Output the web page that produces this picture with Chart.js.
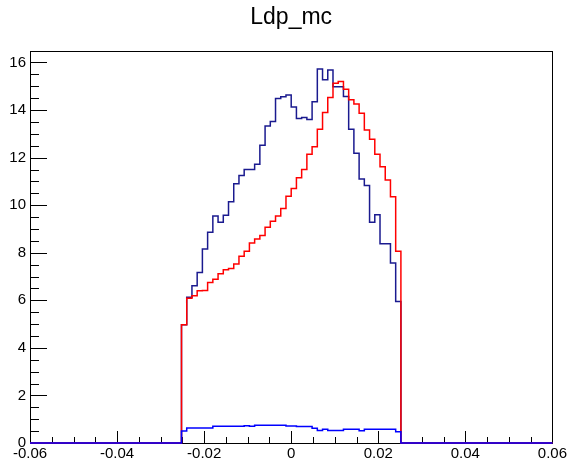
<!DOCTYPE html>
<html>
<head>
<meta charset="utf-8">
<title>Ldp_mc</title>
<script src="https://cdn.jsdelivr.net/npm/chart.js@4/dist/chart.umd.min.js"></script>
<style>
  body { margin: 0; background: #fff; }
  canvas { display: block; }
</style>
</head>
<body>
<canvas id="ldp" width="569" height="464"></canvas>
<script>
// histogram binning: 100 bins over [-0.06, 0.06], filled bins start at 29
var nBins = 100
var xMin = -0.06
var xMax = 0.06
var yMax = 16.5
var firstBin = 29

// bin contents, bins 29..70
var ldpNavy = [4.97, 6.13, 6.61, 7.17, 8.16, 8.86, 9.54, 9.28, 9.58, 10.14,
  10.90, 11.25, 11.50, 11.50, 11.72, 12.52, 13.33, 13.52, 14.49, 14.56,
  14.63, 14.13, 13.64, 13.69, 13.60, 14.35, 15.73, 15.27, 15.68, 14.98,
  14.98, 14.57, 13.19, 12.18, 11.10, 10.83, 9.28, 9.60, 8.38, 8.38,
  7.57, 5.95]
var ldpRed = [4.97, 6.09, 6.19, 6.40, 6.41, 6.75, 6.89, 7.12, 7.29, 7.34,
  7.53, 7.85, 8.06, 8.41, 8.58, 8.72, 9.07, 9.32, 9.54, 9.86,
  10.38, 10.70, 11.15, 11.50, 12.14, 12.46, 13.19, 13.90, 14.53, 15.13,
  15.20, 14.88, 14.43, 14.25, 13.87, 13.16, 12.77, 12.14, 11.62, 11.06,
  10.35, 8.06]
var ldpBlue = [0.50, 0.63, 0.63, 0.63, 0.63, 0.63, 0.70, 0.70, 0.70, 0.70,
  0.70, 0.70, 0.73, 0.70, 0.75, 0.75, 0.75, 0.75, 0.75, 0.75,
  0.72, 0.72, 0.69, 0.69, 0.69, 0.62, 0.53, 0.58, 0.53, 0.53,
  0.53, 0.58, 0.58, 0.58, 0.52, 0.58, 0.58, 0.58, 0.58, 0.58,
  0.58, 0.47]

var binW = (xMax - xMin) / nBins

// one point per left bin edge, stepped lines close the outline
function histPoints(contents){
  var pts = []
  for (var k = 0; k < nBins; k++){
    var i = k - firstBin
    var v = (i >= 0 && i < contents.length) ? contents[i] : 0
    pts.push({x: xMin + k * binW, y: v})
  }
  pts.push({x: xMax, y: 0})
  return pts
}

function histSet(contents, color){
  return {
    data: histPoints(contents),
    borderColor: color,
    borderWidth: 1.5,
    stepped: true,
    pointRadius: 0,
    fill: false,
    clip: 4
  }
}

// frame box and inward ticks, drawn under the histograms
var frameTicks = {
  id: 'frameTicks',
  beforeDatasetsDraw: function(chart){
    var ctx = chart.ctx, a = chart.chartArea
    var xs = chart.scales.x, ys = chart.scales.y
    ctx.save()
    ctx.strokeStyle = '#000'
    ctx.lineWidth = 1
    ctx.strokeRect(Math.round(a.left) + 0.5, Math.round(a.top) + 0.5,
      Math.round(a.right - a.left), Math.round(a.bottom - a.top))
    ctx.beginPath()
    for (var i = 0; i <= 24; i++){
      var px = Math.round(xs.getPixelForValue(xMin + i * 0.005)) + 0.5
      var len = (i % 4 == 0) ? 12 : 6
      ctx.moveTo(px, a.bottom)
      ctx.lineTo(px, a.bottom - len)
    }
    for (var j = 0; j * 0.5 <= yMax; j++){
      var py = Math.round(ys.getPixelForValue(j * 0.5)) + 0.5
      var l = (j % 4 == 0) ? 17 : 9
      ctx.moveTo(a.left, py)
      ctx.lineTo(a.left + l, py)
    }
    ctx.stroke()
    ctx.restore()
  }
}

var tickFont = {family: "'Liberation Sans', Arial, sans-serif", size: 15}

// first dataset is painted last: blue on top, then red, navy underneath
new Chart(document.getElementById('ldp'), {
  type: 'line',
  data: {
    datasets: [
      histSet(ldpBlue, '#0000ff'),
      histSet(ldpRed, '#ff0000'),
      histSet(ldpNavy, '#1a1a8f')
    ]
  },
  options: {
    responsive: false,
    animation: false,
    devicePixelRatio: 1,
    layout: { padding: {left: 0, right: 16, top: 0, bottom: 0} },
    plugins: {
      legend: { display: false },
      tooltip: { enabled: false },
      title: {
        display: true,
        text: 'Ldp_mc',
        fullSize: false,
        color: '#000',
        font: {family: "'Liberation Sans', Arial, sans-serif", size: 23, weight: 'normal'},
        padding: {top: 4, bottom: 19}
      }
    },
    scales: {
      x: {
        type: 'linear',
        min: xMin,
        max: xMax,
        grid: { display: false, drawTicks: false },
        border: { display: false },
        ticks: {
          stepSize: 0.02,
          includeBounds: false,
          autoSkip: false,
          maxRotation: 0,
          padding: 2,
          color: '#000',
          font: tickFont,
          callback: function(v){
            var t = Math.round(v * 100) / 100
            return t === 0 ? '0' : t.toFixed(2)
          }
        },
        afterFit: function(s){ s.height = 21 }
      },
      y: {
        min: 0,
        max: yMax,
        grid: { display: false, drawTicks: false },
        border: { display: false },
        ticks: {
          stepSize: 2,
          includeBounds: false,
          padding: 4,
          color: '#000',
          font: tickFont
        },
        afterFit: function(s){ s.width = 30 }
      }
    }
  },
  plugins: [frameTicks]
})
</script>
</body>
</html>
